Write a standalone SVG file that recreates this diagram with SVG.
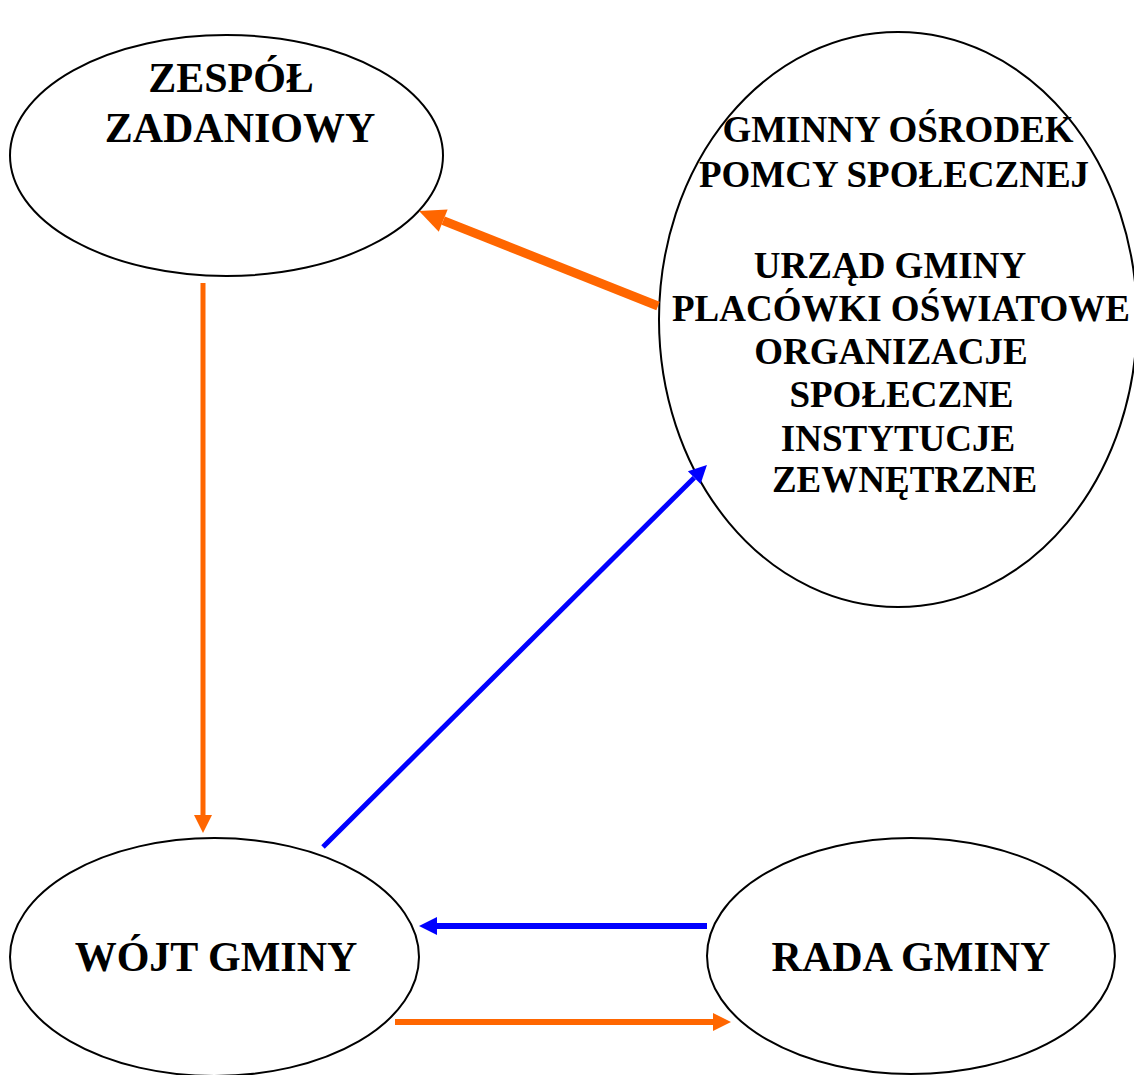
<svg xmlns="http://www.w3.org/2000/svg" width="1134" height="1075" viewBox="0 0 1134 1075">
<style>
.node{fill:#fff;stroke:#000;stroke-width:2}
.t{font-family:"Liberation Serif","Times New Roman",serif;font-weight:bold;fill:#000;text-anchor:middle}
.big{font-size:42px}
.mid{font-size:37px}
.or{fill:none;stroke:#FF6600}
.bl{fill:none;stroke:#0000FF}
</style>
<defs>
<marker id="ao" markerUnits="userSpaceOnUse" viewBox="0 -9 18 18" markerWidth="18" markerHeight="18" refX="0" refY="0" orient="auto" overflow="visible"><path d="M0,-9 L18,0 L0,9 z" fill="#FF6600"/></marker>
<marker id="aoL" markerUnits="userSpaceOnUse" viewBox="0 -12 26 24" markerWidth="26" markerHeight="24" refX="0" refY="0" orient="auto" overflow="visible"><path d="M0,-12 L26,0 L0,12 z" fill="#FF6600"/></marker>
<marker id="ab" markerUnits="userSpaceOnUse" viewBox="0 -9 18 18" markerWidth="18" markerHeight="18" refX="0" refY="0" orient="auto" overflow="visible"><path d="M0,-9 L18,0 L0,9 z" fill="#0000FF"/></marker>
</defs>
<rect width="1134" height="1075" fill="#fff"/>
<g id="zespol">
<ellipse class="node" cx="226.5" cy="155.5" rx="216.5" ry="120.5"/>
<text class="t big" x="231" y="92">ZESPÓŁ</text>
<text class="t big" x="240" y="142">ZADANIOWY</text>
</g>
<g id="gops">
<ellipse class="node" cx="898" cy="319.5" rx="239" ry="287.5"/>
<text class="t mid" x="898" y="142">GMINNY OŚRODEK</text>
<text class="t mid" x="894" y="187">POMCY SPOŁECZNEJ</text>
<text class="t mid" x="890" y="278">URZĄD GMINY</text>
<text class="t mid" x="901" y="321">PLACÓWKI OŚWIATOWE</text>
<text class="t mid" x="891" y="364">ORGANIZACJE</text>
<text class="t mid" x="901.5" y="407">SPOŁECZNE</text>
<text class="t mid" x="898" y="451">INSTYTUCJE</text>
<text class="t mid" x="904.5" y="492">ZEWNĘTRZNE</text>
</g>
<g id="wojt">
<ellipse class="node" cx="214.5" cy="957" rx="204.5" ry="119"/>
<text class="t big" x="216" y="971">WÓJT GMINY</text>
</g>
<g id="rada">
<ellipse class="node" cx="911" cy="956" rx="204" ry="118"/>
<text class="t big" x="911" y="971">RADA GMINY</text>
</g>
<g id="connectors">
<path class="or" style="stroke-width:9" d="M658,306 L443.2,220.6" marker-end="url(#aoL)"/>
<path class="or" style="stroke-width:5" d="M203,283 L203,815" marker-end="url(#ao)"/>
<path class="bl" style="stroke-width:5" d="M323,847 L694.2,477.7" marker-end="url(#ab)"/>
<path class="bl" style="stroke-width:6" d="M707,926 L437,926" marker-end="url(#ab)"/>
<path class="or" style="stroke-width:6" d="M395,1022 L713,1022" marker-end="url(#ao)"/>
</g>
</svg>
